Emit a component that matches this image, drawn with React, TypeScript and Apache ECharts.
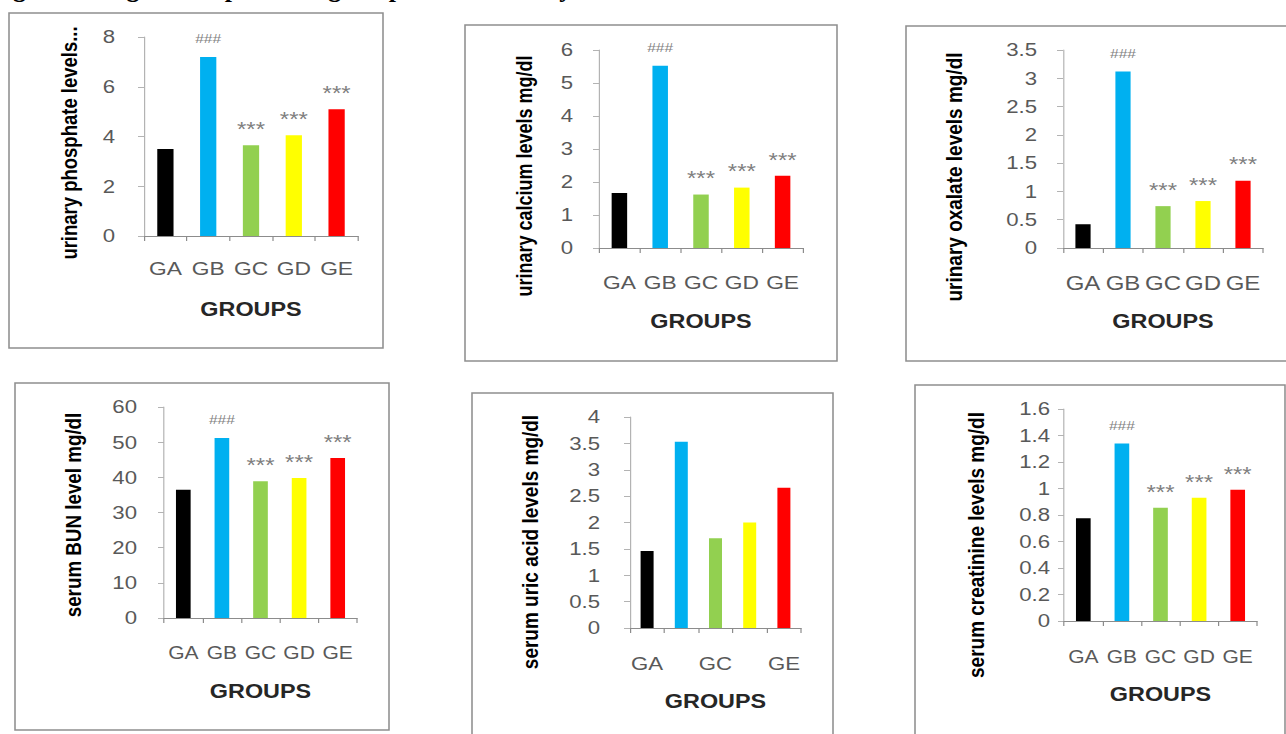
import React, { useEffect, useRef } from "react";
import * as echarts from "echarts";

// ---------- data ----------
const groups = ["GA", "GB", "GC", "GD", "GE"];
const barColors = ["#000000", "#00B0F0", "#92D050", "#FFFF00", "#FF0000"];

const phosphate = [3.5, 7.2, 3.65, 4.05, 5.1];
const calcium = [1.67, 5.52, 1.62, 1.83, 2.19];
const oxalate = [0.42, 3.12, 0.74, 0.83, 1.19];
const bun = [36.5, 51.2, 38.9, 39.8, 45.5];
const uricAcid = [1.46, 3.53, 1.7, 2.0, 2.66];
const creatinine = [0.775, 1.34, 0.855, 0.93, 0.99];

const sigMarks = ["", "###", "***", "***", "***"];
const noMarks = ["", "", "", "", ""];

const yTitles = [
  "urinary phosphate levels...",
  "urinary calcium levels mg/dl",
  "urinary oxalate levels mg/dl",
  "serum BUN level mg/dl",
  "serum uric acid levels mg/dl",
  "serum creatinine levels mg/dl",
];
const yMax = [8, 6, 3.5, 60, 4, 1.6];
const yInterval = [2, 1, 0.5, 10, 0.5, 0.2];
const xTitle = "GROUPS";
const pageTitle = "Fig. 4: Histograms representing the preventive study";

// ---------- layout ----------
const S = 1.2; // horizontal stretch of the original figure
const W = 1286 / S;
const H = 734;

const panels = [
  { values: phosphate, marks: sigMarks, grid: [144, 37, 214, 199], box: [9, 13, 383, 348], tc: [69, 143], ts: 18.5, ym: 29, xm: 23, xf: 19, li: 0 },
  { values: calcium, marks: sigMarks, grid: [599, 50, 204, 198], box: [465, 25, 837, 361], tc: [524, 176], ts: 18, ym: 26, xm: 25, xf: 19, li: 0 },
  { values: oxalate, marks: sigMarks, grid: [1063, 50, 200, 198], box: [906, 26, 1292, 361], tc: [954, 177], ts: 19, ym: 26, xm: 25, xf: 20, li: 0 },
  { values: bun, marks: sigMarks, grid: [164, 407, 193, 211], box: [15, 383, 389, 730], tc: [73, 515], ts: 18.8, ym: 27, xm: 26, xf: 17.5, li: 0 },
  { values: uricAcid, marks: noMarks, grid: [630, 417, 171, 211], box: [472, 393, 833, 745], tc: [530, 542], ts: 19, ym: 30, xm: 26, xf: 18.5, li: 1 },
  { values: creatinine, marks: sigMarks, grid: [1064, 409, 193, 212], box: [915, 385, 1285, 745], tc: [976, 545], ts: 19, ym: 14, xm: 27, xf: 17.5, li: 0 },
];

const FONT = '"Liberation Sans", Arial, sans-serif';

export default function App() {
  const ref = useRef<HTMLDivElement>(null);

  useEffect(() => {
    if (!ref.current) return;
    const chart = echarts.init(ref.current, undefined, { renderer: "svg" });

    const grids = panels.map((p) => ({
      left: p.grid[0] / S,
      top: p.grid[1],
      width: p.grid[2] / S,
      height: p.grid[3],
    }));

    const xAxes = panels.map((p, i) => ({
      type: "category",
      gridIndex: i,
      data: groups,
      boundaryGap: true,
      axisLine: { show: true, lineStyle: { color: "#8c8c8c", width: 1 } },
      axisTick: { show: true, interval: 0, length: 5, lineStyle: { color: "#8c8c8c" } },
      axisLabel: {
        interval: p.li,
        margin: p.xm,
        color: "#595959",
        fontFamily: FONT,
        fontSize: p.xf,
      },
      name: xTitle,
      nameLocation: "middle",
      nameGap: 64,
      nameTextStyle: { color: "#262626", fontFamily: FONT, fontWeight: "bold", fontSize: 19.5 },
      splitLine: { show: false },
    }));

    const yAxes = panels.map((p, i) => ({
      type: "value",
      gridIndex: i,
      min: 0,
      max: yMax[i],
      interval: yInterval[i],
      axisLine: { show: true, lineStyle: { color: "#b3b3b3", width: 1 } },
      axisTick: { show: true, length: 5, lineStyle: { color: "#b3b3b3" } },
      axisLabel: { margin: p.ym / S, color: "#595959", fontFamily: FONT, fontSize: 18.5 },
      splitLine: { show: false },
    }));

    const series = panels.map((p, i) => ({
      type: "bar",
      xAxisIndex: i,
      yAxisIndex: i,
      barWidth: "38%",
      data: p.values.map((v, j) => ({ value: v, itemStyle: { color: barColors[j] } })),
      label: {
        show: true,
        position: "top",
        distance: 6,
        formatter: (q: any) => {
          const m = p.marks[q.dataIndex];
          if (!m) return "";
          return m === "###" ? "{h|" + m + "}" : "{a|" + m + "}";
        },
        rich: {
          a: { fontSize: 20, lineHeight: 20, color: "#7f7f7f", fontFamily: FONT },
          h: { fontSize: 13, lineHeight: 24, color: "#7f7f7f", fontFamily: FONT },
        },
      },
    }));

    const graphics: any[] = [];
    panels.forEach((p) => {
      graphics.push({
        type: "rect",
        silent: true,
        shape: { x: p.box[0] / S, y: p.box[1], width: (p.box[2] - p.box[0]) / S, height: p.box[3] - p.box[1] },
        style: { fill: "none", stroke: "#8f8f8f", lineWidth: 1.3 },
      });
    });
    panels.forEach((p, i) => {
      graphics.push({
        type: "text",
        silent: true,
        x: p.tc[0] / S,
        y: p.tc[1],
        rotation: Math.PI / 2,
        style: {
          text: yTitles[i],
          fontFamily: FONT,
          fontWeight: "bold",
          fontSize: p.ts,
          fill: "#000000",
          align: "center",
          verticalAlign: "middle",
        },
      });
    });
    graphics.push({
      type: "text",
      silent: true,
      x: -10 / S,
      y: -12,
      scaleX: 1 / S,
      style: {
        text: pageTitle,
        fontFamily: '"Liberation Serif", "Times New Roman", serif',
        fontWeight: "bold",
        fontSize: 26,
        fill: "#000000",
        align: "left",
        verticalAlign: "middle",
      },
    });

    chart.setOption({
      animation: false,
      backgroundColor: "#ffffff",
      grid: grids,
      xAxis: xAxes,
      yAxis: yAxes,
      series,
      graphic: graphics,
    });

    return () => chart.dispose();
  }, []);

  return (
    <div
      ref={ref}
      style={{
        position: "fixed",
        left: 0,
        top: 0,
        width: W,
        height: H,
        transform: `scaleX(${S})`,
        transformOrigin: "0 0",
        background: "#ffffff",
      }}
    />
  );
}
